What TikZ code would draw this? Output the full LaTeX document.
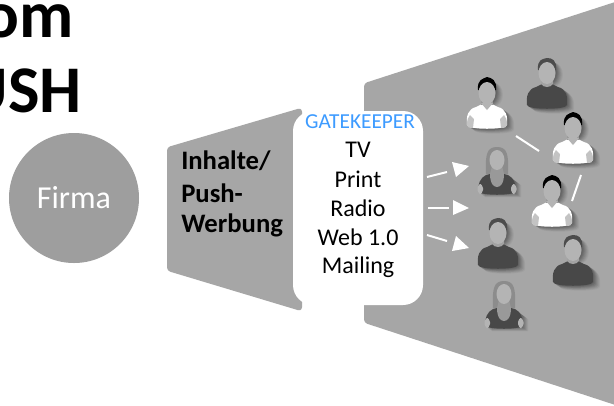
\documentclass[tikz,border=0pt]{standalone}
\usepackage{fontspec}
\setmainfont{Carlito}
\usetikzlibrary{calc}
\definecolor{fgrey}{HTML}{A6A6A6}
\definecolor{dshirt}{HTML}{484848}
\definecolor{skin}{HTML}{B4B4B4}
\definecolor{ghair}{HTML}{8C8C8C}
\tikzset{
  panel/.style={fill=fgrey,draw=fgrey,line width=1.5pt,line join=round,rounded corners=2pt},
  whiteline/.style={draw=white,line width=1.5pt},
  tipfill/.style={fill=white,draw=none},
  lab/.style={inner sep=0pt,font=\fontsize{18}{20}\selectfont,text=black},
  blab/.style={inner sep=0pt,anchor=west,font=\fontsize{20}{22}\selectfont\bfseries,text=black},
  title/.style={inner sep=0pt,anchor=base east,font=\fontsize{50}{52}\selectfont\bfseries,text=black},
}
% body of a person: origin = head centre
\newcommand{\bodyshape}{(-20,33) .. controls (-21,24) and (-19,17) .. (-11,15) -- (-5,12) -- (5,12) -- (11,15) .. controls (19,17) and (21,24) .. (20,33) .. controls (20,38) and (-20,38) .. (-20,33) -- cycle}
\newcommand{\manshadow}[2]{%
  \begin{scope}[shift={(#1,#2)}]
    \foreach \d/\o in {7/.04,6/.05,5/.06,4/.07,3/.08,2/.08,1/.08}{
      \fill[black,opacity=\o,shift={(\d,\d*.7)}] \bodyshape;
      \fill[black,opacity=\o,shift={(\d,\d*.4)}] (0,0) circle[x radius=9,y radius=12];
    }
  \end{scope}}
\newcommand{\manwhite}[2]{%
  \manshadow{#1}{#2}
  \begin{scope}[shift={(#1,#2)}]
    \fill[white] \bodyshape;
    \fill[skin!80!white] (-20,33) .. controls (-20,28) and (-19,25) .. (-17,23) -- (-13,27) -- (-14,36) .. controls (-17,36) and (-20,36) .. (-20,33) -- cycle;
    \fill[skin!80!white] (20,33) .. controls (20,28) and (19,25) .. (17,23) -- (13,27) -- (14,36) .. controls (17,36) and (20,36) .. (20,33) -- cycle;
    \fill[skin!85!black] (-6,6) rectangle (6,13);
    \fill[skin] (-6,11) -- (0,18) -- (6,11) -- cycle;
    \fill[black] (-9,-2) .. controls (-10,-13) and (-4,-13) .. (0,-15) .. controls (5,-14) and (10,-12) .. (9,-2) -- cycle;
    \fill[skin] (0,1) circle[x radius=8.5,y radius=11];
  \end{scope}}
\newcommand{\mandark}[2]{%
  \manshadow{#1}{#2}
  \begin{scope}[shift={(#1,#2)}]
    \fill[dshirt] \bodyshape;
    \fill[skin!90!black] (-6,6) -- (6,6) -- (6,12) .. controls (3,16) and (-3,16) .. (-6,12) -- cycle;
    \fill[black!70] (-9,-2) .. controls (-10,-13) and (-4,-13) .. (0,-14) .. controls (5,-14) and (10,-12) .. (9,-2) -- cycle;
    \fill[skin] (0,1) circle[x radius=8.5,y radius=11];
  \end{scope}}
\newcommand{\woman}[2]{%
  \begin{scope}[shift={(#1,#2)}]
    \foreach \d/\o in {6/.05,5/.06,4/.07,3/.08,2/.08,1/.08}{
      \fill[black,opacity=\o,shift={(\d,\d*.7)}] (-18,33) -- (-18,21) -- (-10,15) -- (10,15) -- (18,21) -- (18,33) -- cycle;
    }
    \fill[ghair] (-11,14) .. controls (-12,-6) and (-10,-13) .. (0,-13) .. controls (10,-13) and (12,-6) .. (11,14) -- cycle;
    \fill[dshirt] (-19,31) .. controls (-19,24) and (-17,18) .. (-11,15) -- (-7,14) -- (7,14) -- (11,15) .. controls (17,18) and (19,24) .. (19,31) .. controls (19,36) and (-19,36) .. (-19,31) -- cycle;
    \fill[skin,rounded corners=3pt] (-19.5,24) -- (-14,24) -- (-14,34) -- (-19.5,34) -- cycle;
    \fill[skin,rounded corners=3pt] (19.5,24) -- (14,24) -- (14,34) -- (19.5,34) -- cycle;
    \fill[skin!85!black] (-5,6) -- (5,6) -- (7,14) .. controls (7,24) and (3,27) .. (0,27) .. controls (-3,27) and (-7,24) .. (-7,14) -- cycle;
    \fill[skin] (0,0) circle[x radius=7.5,y radius=10];
  \end{scope}}
\begin{document}
\begin{tikzpicture}[x=0.75pt,y=-0.75pt]
\useasboundingbox (0,0) rectangle (614,405);
\clip (0,0) rectangle (614,405);
\fill[white] (0,0) rectangle (614,405);
% title
\node[title] (t1) at (74,37) {om};
\node[title] (t2) at (82,112) {USH};
% firma
\node[circle,fill=fgrey!95!black,minimum size=130*0.75pt,inner sep=0pt,text=white,font=\fontsize{24}{26}\selectfont] (firma) at (74,198) {Firma};
% panels
\path[panel] (365,84) -- (640,-5) -- (640,412) -- (365,322) -- cycle;
\path[panel] (168,148) -- (301,109) -- (301,310) -- (168,270) -- cycle;
\node[fill=white,rounded corners=15pt,minimum width=130*0.75pt,minimum height=194*0.75pt,inner sep=0pt] (gate) at (358,208) {};
% labels
\node[blab] (l1) at (181,161) {Inhalte/};
\node[blab] (l2) at (181,193) {Push-};
\node[blab] (l3) at (181,225) {Werbung};
\node[inner sep=0pt,text={rgb,255:red,61;green,155;blue,255},font=\fontsize{16}{18}\selectfont] (gk) at (360,122) {GATEKEEPER};
\node[lab] (tv) at (358,150) {TV};
\node[lab] (pr) at (358,179) {Print};
\node[lab] (ra) at (358,208) {Radio};
\node[lab] (we) at (358,237) {Web 1.0};
\node[lab] (ma) at (358,267) {Mailing};
% arrows
\coordinate (a1s) at (427,177); \coordinate (a1e) at (447,172);
\coordinate (a2s) at (428,208); \coordinate (a2e) at (449,208);
\coordinate (a3s) at (427,235); \coordinate (a3e) at (447,241);
\draw[whiteline] (a1s) -- (a1e);
\draw[whiteline] (a2s) -- (a2e);
\draw[whiteline] (a3s) -- (a3e);
\path[tipfill] (452,162) -- (469,166) -- (456,177) -- cycle;
\path[tipfill] (453,200) -- (469,208) -- (453,215) -- cycle;
\path[tipfill] (456,236) -- (469,248) -- (452,251) -- cycle;
% links
\coordinate (c1s) at (516,136); \coordinate (c1e) at (539,151);
\coordinate (c2s) at (581,175); \coordinate (c2e) at (572,201);
\draw[whiteline] (c1s) -- (c1e);
\draw[whiteline] (c2s) -- (c2e);
% people
\manwhite{487}{92}
\mandark{547}{72}
\manwhite{573}{127}
\woman{497}{160}
\manwhite{552}{190}
\mandark{498}{232}
\mandark{573}{249}
\woman{504}{294}
\end{tikzpicture}
\end{document}
